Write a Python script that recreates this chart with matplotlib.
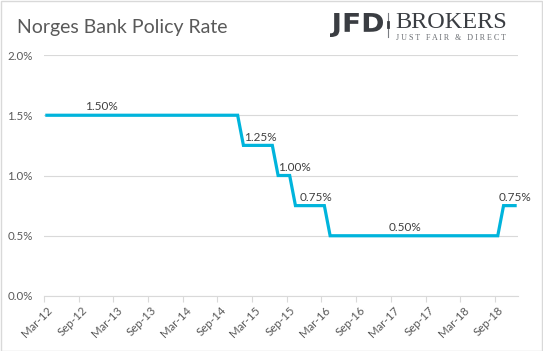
import numpy as np
import pandas as pd
import matplotlib.pyplot as plt
from matplotlib.patches import Rectangle, PathPatch
from matplotlib.textpath import TextPath
from matplotlib.font_manager import FontProperties
from matplotlib.transforms import Affine2D

# monthly policy rate, Mar-12 .. Dec-18 (%)
months = pd.period_range('2012-03', '2018-12', freq='M')
rate = [1.50] * 34 + [1.25] * 6 + [1.00] * 3 + [0.75] * 6 + [0.50] * 30 + [0.75] * 3

# data labels: (month index where label sits, value)
label_idx = [9.5, 37.0, 42.9, 46.5, 62.0, 81.0]
label_val = [1.50, 1.25, 1.00, 0.75, 0.50, 0.75]

yticks = [0.0, 0.5, 1.0, 1.5, 2.0]

grey = '#595959'
line_col = '#00B4DC'
grid_col = '#D9D9D9'
logo_col = '#3a3d42'

plt.rcParams['font.family'] = ['Lato', 'DejaVu Sans']

W, H = 543, 351
fig = plt.figure(figsize=(W / 100, H / 100), dpi=100)
ax = fig.add_axes([44 / W, 1 - 296 / H, 474 / W, 241 / H])

x = np.arange(len(rate))
ax.plot(x, rate, color=line_col, lw=2.3, solid_joinstyle='miter', zorder=3)

for k, v in zip(label_idx, label_val):
    ax.annotate('%.2f%%' % v, (k, v), xytext=(0, 2), textcoords='offset points',
                ha='center', va='bottom', fontsize=8.5, color='#404040')

ax.set_xlim(-0.5, len(rate) - 0.5)
ax.set_ylim(0, 2.0)
ax.set_yticks(yticks)
ax.set_yticklabels(['%.1f%%' % t for t in yticks])
ax.yaxis.grid(True, color=grid_col, lw=0.8)
ax.set_axisbelow(True)

ax.set_xticks(x[::6])
ax.set_xticklabels([m.strftime('%b-%y') for m in months[::6]], rotation=45,
                   ha='right', rotation_mode='anchor')
ax.set_xticks(np.arange(-0.5, len(rate), 6), minor=True)
ax.tick_params(axis='x', which='major', length=0, pad=6, labelsize=8.3, labelcolor=grey)
ax.tick_params(axis='x', which='minor', length=4, color=grid_col, width=0.8)
ax.tick_params(axis='y', length=0, pad=8, labelsize=8.3, labelcolor=grey)

for s in ['top', 'right', 'left']:
    ax.spines[s].set_visible(False)
ax.spines['bottom'].set_color(grid_col)
ax.spines['bottom'].set_linewidth(0.8)

# title
fig.text(17 / W, 1 - 33 / H, 'Norges Bank Policy Rate', fontsize=14,
         color=grey, ha='left', va='baseline')

# logo: condensed bold "JFD" drawn as a path squeezed to fit
tp = TextPath((0, 0), 'JFD', size=1, prop=FontProperties(family='DejaVu Sans', weight='bold'))
bb = tp.get_extents()
sx = 53 / bb.width
sy = 24 / bb.height
tr = Affine2D().translate(-bb.x0, -bb.y0).scale(sx, sy).translate(330, H - 37)
fig.add_artist(PathPatch(tr.transform_path(tp), fc=logo_col, ec='none',
                         transform=None))
fig.add_artist(plt.Line2D([388 / W, 388 / W], [1 - 13 / H, 1 - 37 / H],
                          color='#7a7d82', lw=0.8))
fig.add_artist(plt.Line2D([388 / W, 388 / W], [1 - 22 / H, 1 - 27 / H],
                          color=logo_col, lw=2))
fig.text(395 / W, 1 - 27.5 / H, 'BROKERS', fontsize=17.5, color=logo_col,
         ha='left', va='baseline', family=['Liberation Serif', 'DejaVu Serif'])
fig.text(396 / W, 1 - 39.5 / H, 'J U S T   F A I R   &   D I R E C T', fontsize=5.8,
         color='#6a6d72', ha='left', va='baseline',
         family=['Liberation Serif', 'DejaVu Serif'])

# outer frame
fig.add_artist(Rectangle((0.5 / W, 0.5 / H), 541.5 / W, 349.5 / H,
                         transform=fig.transFigure, fill=False, ec=grid_col, lw=1))

fig.savefig('out.png', dpi=100)
